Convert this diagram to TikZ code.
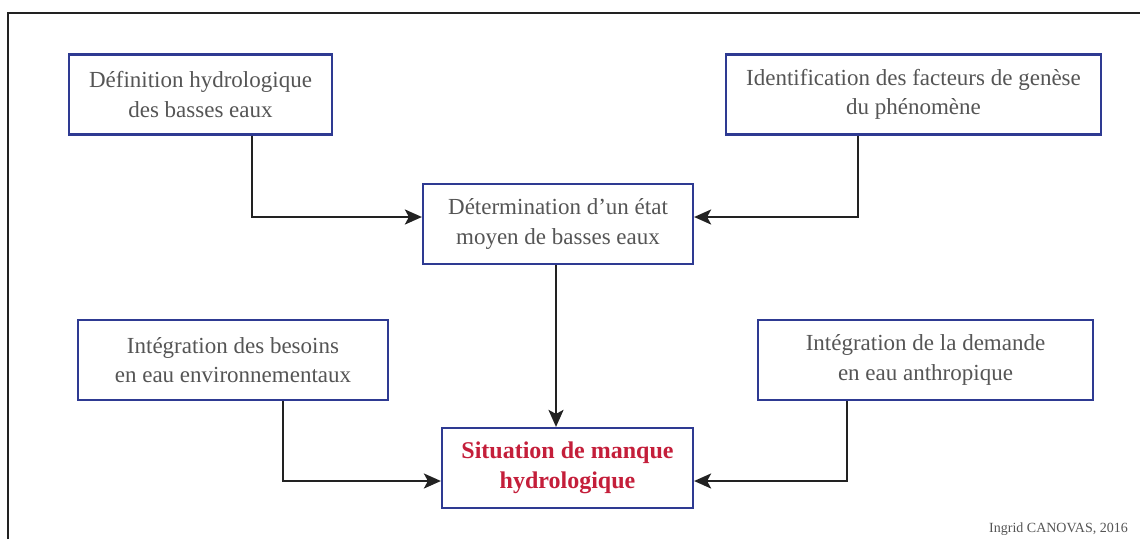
\documentclass[tikz,border=0pt]{standalone}
\usepackage{fontspec}
\setmainfont{Liberation Serif}
\usetikzlibrary{arrows.meta,calc}
\definecolor{boxblue}{HTML}{2E3A92}
\definecolor{txtgray}{HTML}{555555}
\definecolor{redtxt}{HTML}{C41E3A}
\definecolor{linedark}{HTML}{222222}
\begin{document}
\begin{tikzpicture}[x=1pt,y=-1pt,
  box/.style={draw=boxblue,line width=2.2pt,fill=white,align=center,text=txtgray,
    font=\fontsize{23}{29.5}\selectfont,inner sep=0pt,minimum height=80pt},
  arr/.style={draw=linedark,line width=2.2pt,-{Stealth[length=17pt,width=15pt,inset=4pt]}}]
\useasboundingbox (0,0) rectangle (1140,539);
\fill[white] (0,0) rectangle (1140,539);
\draw[linedark,line width=2.5pt] (8,539) -- (8,13) -- (1140,13);
\node[box,minimum width=263pt] (b1) at (200.5,94.5) {Définition hydrologique\\des basses eaux};
\node[box,minimum width=375pt] (b2) at (913.5,94.5) {Identification des facteurs de genèse\\du phénomène};
\node[box,minimum width=270pt] (b3) at (558,224) {Détermination d’un état\\moyen de basses eaux};
\node[box,minimum width=310pt] (b5) at (233,360) {Intégration des besoins\\en eau environnementaux};
\node[box,minimum width=335pt] (b6) at (925.5,360) {Intégration de la demande\\en eau anthropique};
\node[box,minimum width=251pt,text=redtxt,font=\fontsize{24}{30}\selectfont\bfseries] (b4) at (567.5,468) {Situation de manque\\hydrologique};
\node[anchor=base east,text=txtgray,font=\fontsize{14}{16}\selectfont,inner sep=0pt] (credit) at (1128,532) {Ingrid CANOVAS, 2016};
\draw[arr] (b1.south -| 252,0) |- ([yshift=7pt]b3.west);
\draw[arr] (b2.south -| 858,0) |- ([yshift=7pt]b3.east);
\draw[arr] (b3.south -| 556,0) -- (b4.north -| 556,0);
\draw[arr] (b5.south -| 283,0) |- ([yshift=-13pt]b4.west);
\draw[arr] (b6.south -| 847,0) |- ([yshift=-13pt]b4.east);
\end{tikzpicture}
\end{document}
